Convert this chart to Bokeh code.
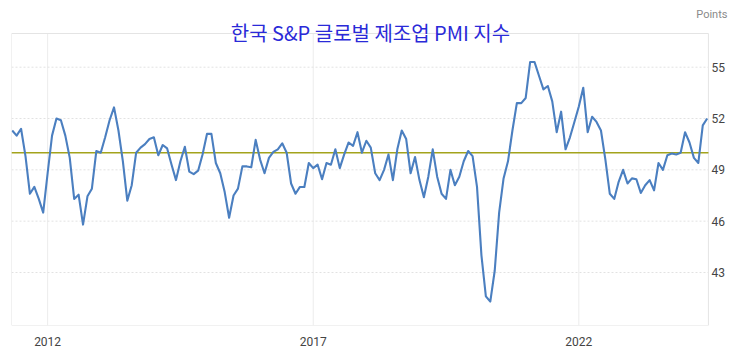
from bokeh.plotting import figure
from bokeh.models import Range1d, FixedTicker, Label
from bokeh.core.properties import value
from bokeh.embed import file_html
from bokeh.resources import INLINE

title_text = "한국 S&P 글로벌 제조업 PMI 지수"
unit_text = "Points"
start_year = 2011
start_month = 5
pmi = [
    51.3, 51.0, 51.4, 49.8, 47.6, 48.0, 47.3, 46.5, 48.8, 51.0,
    52.0, 51.9, 51.0, 49.7, 47.3, 47.55, 45.8, 47.45, 47.9, 50.1,
    50.0, 50.9, 51.9, 52.65, 51.3, 49.5, 47.2, 48.1, 50.0, 50.3,
    50.5, 50.8, 50.9, 49.85, 50.45, 50.25, 49.3, 48.4, 49.5, 50.35,
    48.9, 48.75, 48.95, 49.9, 51.1, 51.1, 49.4, 48.8, 47.7, 46.2,
    47.5, 47.9, 49.2, 49.2, 49.15, 50.75, 49.6, 48.8, 49.7, 50.05,
    50.2, 50.55, 50.0, 48.2, 47.6, 48.0, 48.0, 49.4, 49.1, 49.3,
    48.45, 49.4, 49.3, 50.2, 49.1, 49.9, 50.6, 50.4, 51.2, 50.0,
    50.7, 50.3, 48.8, 48.4, 49.0, 49.9, 48.4, 50.2, 51.3, 50.8,
    48.8, 49.75, 48.4, 47.4, 48.6, 50.2, 48.6, 47.6, 47.3, 49.0,
    48.1, 48.6, 49.5, 50.1, 49.8, 48.0, 44.0, 41.6, 41.3, 43.1,
    46.5, 48.5, 49.5, 51.3, 52.9, 52.9, 53.2, 55.3, 55.3, 54.5,
    53.7, 53.9, 53.0, 51.2, 52.4, 50.2, 50.9, 51.8, 52.7, 53.8,
    51.2, 52.1, 51.8, 51.3, 49.6, 47.6, 47.3, 48.3, 49.0, 48.2,
    48.5, 48.45, 47.65, 48.1, 48.4, 47.8, 49.4, 49.0, 49.85, 49.95,
    49.9, 50.0, 51.2, 50.6, 49.7, 49.4, 51.6, 52.0,
]
x_ticks = [2012, 2017, 2022]
y_ticks = [43, 46, 49, 52, 55]
y_tick_labels = [str(v) for v in y_ticks]
threshold = 50

t = [start_year + (start_month - 1 + i) / 12 for i in range(len(pmi))]

# plotting box (drawn as a frame) and the wider canvas range
bx0, bx1 = 2011.32, 2024.44
by0, by1 = 39.9, 56.97
x_end = bx0 + 728 / 53.12
y_end = by0 + 325 * (by1 - by0) / 292

p = figure(width=739, height=358, output_backend="svg", toolbar_location=None,
           x_range=Range1d(bx0, x_end), y_range=Range1d(by0, y_end),
           y_axis_location=None,
           min_border_left=11, min_border_right=0,
           min_border_top=0, min_border_bottom=33)
p.background_fill_color = "white"
p.border_fill_color = "white"
p.outline_line_color = None
p.grid.visible = False

p.xaxis.ticker = FixedTicker(ticks=x_ticks)
ax = p.xaxis[0]
ax.axis_line_color = None
ax.major_tick_line_color = None
ax.minor_tick_line_color = None
ax.major_label_text_font = "Roboto"
ax.major_label_text_font_size = "12px"
ax.major_label_text_color = "#444444"
ax.major_label_standoff = 5

# grid lines
p.segment(x0=x_ticks, x1=x_ticks, y0=[by0] * len(x_ticks), y1=[by1] * len(x_ticks),
          line_color="#ececec", line_width=1)
p.segment(x0=[bx0] * len(y_ticks), x1=[bx1] * len(y_ticks), y0=y_ticks, y1=y_ticks,
          line_color="#e2e2e2", line_width=1, line_dash="2 2")
# frame
p.quad(left=[bx0], right=[bx1], bottom=[by0], top=[by1],
       fill_color=None, line_color="#e4e4e4", line_width=1)

# 50 line
p.segment(x0=[bx0], x1=[bx1], y0=[threshold], y1=[threshold],
          line_color="#a3a31c", line_width=1.6)

p.line(t, pmi, line_color="#4b7fc0", line_width=2.1, line_join="round")

# y tick labels on the right
p.text(x=[bx1] * len(y_ticks), y=y_ticks, text=y_tick_labels, x_offset=3,
       text_align="left", text_baseline="middle",
       text_font=value("Roboto"), text_font_size="12px", text_color="#444444")

p.add_layout(Label(x=(bx0 + bx1) / 2 + 10.5 / 53.12, y=by1, text=title_text,
                   text_align="center", text_baseline="middle",
                   text_font="Noto Sans CJK KR", text_font_size="20px",
                   text_color="#2a2ad8", y_offset=1))
p.add_layout(Label(x=bx1, y=by1, text=unit_text, text_align="right",
                   text_baseline="middle", x_offset=19, y_offset=19,
                   text_font="Roboto", text_font_size="11px",
                   text_color="#8a8a8a"))

open("out.html", "w").write(file_html(p, INLINE))
